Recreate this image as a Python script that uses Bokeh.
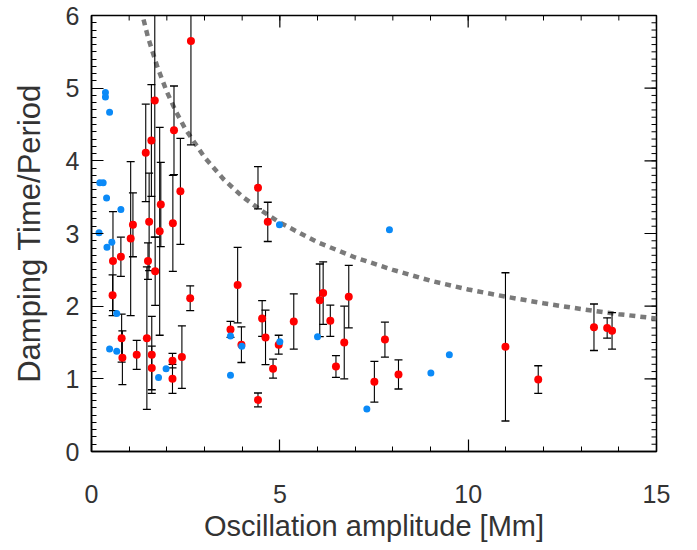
import math
from bokeh.plotting import figure
from bokeh.models import Range1d, FixedTicker, ColumnDataSource
from bokeh.embed import file_html
from bokeh.resources import INLINE

# ---- data ----
red_x = [2.64, 1.68, 1.59, 1.44, 2.19, 2.36, 1.84, 1.10, 1.53, 2.16,
         1.81, 1.04, 0.57, 0.78, 1.50, 1.69, 0.56, 2.62, 0.80, 1.47,
         0.82, 1.20, 1.60, 1.60, 2.15, 2.15, 2.40,
         4.42, 4.68, 3.88, 3.69, 3.98, 4.53, 4.62, 4.82, 4.42, 4.97,
         5.37, 6.06, 6.15, 6.34, 6.83, 6.71, 6.49,
         7.79, 7.51, 8.15, 10.99, 11.86, 13.34, 13.69, 13.82]
red_y = [5.65, 4.83, 4.28, 4.11, 4.42, 3.58, 3.40, 3.12, 3.16, 3.14,
         3.03, 2.93, 2.62, 2.68, 2.62, 2.48, 2.15, 2.11, 1.56, 1.56,
         1.29, 1.33, 1.33, 1.15, 1.25, 1.00, 1.30,
         3.63, 3.16, 2.29, 1.68, 1.47, 1.83, 1.57, 1.14, 0.71, 1.47,
         1.79, 2.08, 2.18, 1.80, 2.13, 1.50, 1.17,
         1.54, 0.96, 1.06, 1.44, 0.99, 1.71, 1.70, 1.66]
red_err = [1.43, 1.88, 0.77, 0.67, 0.61, 0.73, 0.58, 0.44, 0.67, 0.66,
           1.43, 1.06, 0.68, 0.27, 0.25, 0.47, 0.28, 0.17, 0.33, 0.98,
           0.37, 0.20, 0.53, 0.30, 0.10, 0.20, 0.43,
           0.29, 0.27, 0.52, 0.11, 0.245, 0.245, 0.375, 0.13, 0.095, 0.13,
           0.38, 0.50, 0.43, 0.215, 0.43, 0.50, 0.15,
           0.24, 0.28, 0.20, 1.02, 0.19, 0.32, 0.14, 0.25]

blue_x = [0.37, 0.37, 0.48, 0.22, 0.31, 0.40, 0.78, 0.20, 0.54, 0.41,
          0.67, 0.48, 0.67, 1.98, 1.78,
          4.99, 3.69, 3.99, 3.69, 5.00, 6.00,
          7.91, 9.50, 9.01, 7.31]
blue_y = [4.94, 4.88, 4.67, 3.70, 3.70, 3.49, 3.33, 3.01, 2.88, 2.81,
          1.90, 1.41, 1.38, 1.14, 1.02,
          3.12, 1.59, 1.45, 1.05, 1.51, 1.58,
          3.05, 1.33, 1.08, 0.585]

curve_x = [1.25, 1.34, 1.5, 1.75, 2.0, 2.25, 2.5, 3.0, 3.5, 4.0, 4.5, 5.0,
           6.0, 7.0, 8.0, 9.0, 10.0, 11.0, 12.0, 13.0, 14.0, 15.0]
curve_y = [6.24, 6.03, 5.70, 5.29, 4.95, 4.67, 4.43, 4.05, 3.75, 3.51, 3.32, 3.15,
           2.88, 2.67, 2.50, 2.35, 2.23, 2.13, 2.04, 1.96, 1.89, 1.83]

x_ticks = [0, 5, 10, 15]
y_ticks = [0, 1, 2, 3, 4, 5, 6]
x_minor = list(range(0, 16))
y_minor = [i / 10 for i in range(0, 61)]
x_lim = (0, 15)
y_lim = (0, 6)

x_title = "Oscillation amplitude [Mm]"
y_title = "Damping Time/Period"

RED = "#ff0000"
BLUE = "#0b8af7"
FONT = "Liberation Sans"
TXT = "#333333"

p = figure(frame_width=565, frame_height=436,
           min_border_left=91, min_border_right=24,
           min_border_top=15, min_border_bottom=95,
           x_range=Range1d(*x_lim), y_range=Range1d(*y_lim),
           output_backend="svg", toolbar_location=None,
           x_axis_label=x_title, y_axis_label=y_title)
p.title.visible = False
p.grid.visible = False
p.outline_line_color = "black"
p.outline_line_width = 1.5
p.background_fill_color = "white"
p.border_fill_color = "white"

def style(ax, ticks, minor):
    ax.ticker = FixedTicker(ticks=ticks, minor_ticks=minor)
    ax.axis_line_color = "black"
    ax.axis_line_width = 1.5
    ax.major_tick_in = 12
    ax.major_tick_out = 0
    ax.minor_tick_in = 5
    ax.minor_tick_out = 0
    ax.major_tick_line_color = "black"
    ax.minor_tick_line_color = "black"
    ax.major_tick_line_width = 1.2
    ax.minor_tick_line_width = 1
    ax.major_label_text_font = FONT
    ax.major_label_text_font_size = "25px"
    ax.major_label_text_color = TXT
    ax.axis_label_text_font = FONT
    ax.axis_label_text_font_style = "normal"
    ax.axis_label_text_color = TXT

style(p.xaxis[0], x_ticks, x_minor)
style(p.yaxis[0], y_ticks, y_minor)
p.xaxis[0].major_label_standoff = 33
p.xaxis[0].axis_label_standoff = 4
p.yaxis[0].major_label_standoff = 12
p.yaxis[0].axis_label_standoff = 16
p.xaxis[0].axis_label_text_font_size = "29px"
p.yaxis[0].axis_label_text_font_size = "31px"

# mirrored inward ticks on the right and top edges
tick_kw = dict(line_color="black", length_units="screen")
p.ray(x=[x_lim[1]] * len(y_ticks), y=y_ticks, length=12, angle=math.pi, line_width=1.2, **tick_kw)
p.ray(x=[x_lim[1]] * len(y_minor), y=y_minor, length=5, angle=math.pi, line_width=1, **tick_kw)
p.ray(x=x_ticks, y=[y_lim[1]] * len(x_ticks), length=12, angle=-math.pi / 2, line_width=1.2, **tick_kw)
p.ray(x=x_minor, y=[y_lim[1]] * len(x_minor), length=5, angle=-math.pi / 2, line_width=1, **tick_kw)

# model curve
p.line(curve_x, curve_y, line_color="#7a7a7a", line_width=4.5, line_dash="6 5")

# error bars
src = ColumnDataSource(dict(
    x=red_x, y=red_y,
    lo=[y - e for y, e in zip(red_y, red_err)],
    hi=[y + e for y, e in zip(red_y, red_err)]))
p.segment(x0="x", y0="lo", x1="x", y1="hi", source=src, line_color="black", line_width=1.1)
p.scatter(x="x", y="lo", source=src, marker="dash", size=8, line_color="black", line_width=1.3)
p.scatter(x="x", y="hi", source=src, marker="dash", size=8, line_color="black", line_width=1.3)

p.scatter(x="x", y="y", source=src, size=8, fill_color=RED, line_color=None)
p.scatter(blue_x, blue_y, size=7, fill_color=BLUE, line_color=None)

open("out.html", "w").write(file_html(p, INLINE))
